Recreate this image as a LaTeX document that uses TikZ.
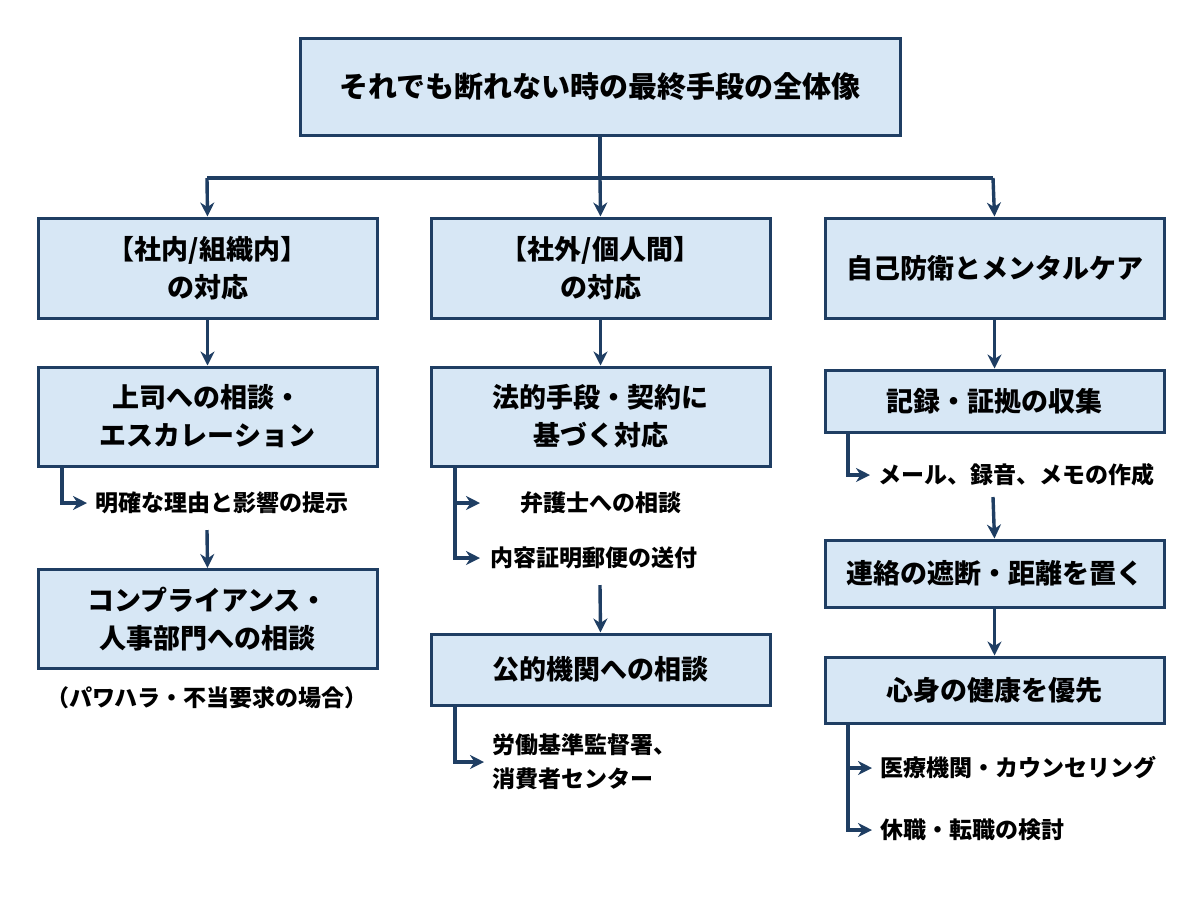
\documentclass[tikz,border=0pt]{standalone}
\usepackage{fontspec}
\setmainfont{Noto Sans CJK JP}
\usetikzlibrary{positioning,calc,arrows.meta}
\definecolor{boxfill}{HTML}{D7E7F5}
\definecolor{navy}{HTML}{1F3E63}
\tikzset{box/.style={draw=navy,line width=1.5pt,fill=boxfill,align=center,font=\bfseries\fontsize{13.5}{19}\selectfont,inner sep=0pt},
         note/.style={anchor=west,align=left,font=\bfseries\fontsize{11.5}{17}\selectfont,inner sep=0pt},
         link/.style={navy,line width=1.7pt,-{Stealth[length=7pt,width=7pt]}}}
\begin{document}
\begin{tikzpicture}[x=0.5pt,y=-0.5pt]
\useasboundingbox (0,0) rectangle (1200,896);
% top
\node[box,minimum width=300pt,minimum height=48.5pt,font=\bfseries\fontsize{14.5}{19}\selectfont] (top) at (600,86.5) {それでも断れない時の最終手段の全体像};
% column boxes
\node[box,minimum width=169.5pt,minimum height=50pt] (a1) at (207.5,268) {【社内/組織内】\\の対応};
\node[box,minimum width=169.5pt,minimum height=50pt] (b1) at (600.5,268) {【社外/個人間】\\の対応};
\node[box,minimum width=169.5pt,minimum height=50pt] (c1) at (994.5,268) {自己防衛とメンタルケア};
\node[box,minimum width=169.5pt,minimum height=49.5pt] (a2) at (207.5,416.5) {上司への相談・\\エスカレーション};
\node[box,minimum width=169.5pt,minimum height=49.5pt] (a3) at (207.5,619) {コンプライアンス・\\人事部門への相談};
\node[box,minimum width=169.5pt,minimum height=49.5pt] (b2) at (600.5,416.5) {法的手段・契約に\\基づく対応};
\node[box,minimum width=169.5pt,minimum height=35.5pt] (b3) at (600.5,669.5) {公的機関への相談};
\node[box,minimum width=169.5pt,minimum height=31pt] (c2) at (994.5,401) {記録・証拠の収集};
\node[box,minimum width=169.5pt,minimum height=33.5pt] (c3) at (994.5,573.5) {連絡の遮断・距離を置く};
\node[box,minimum width=169.5pt,minimum height=33pt] (c4) at (994.5,690) {心身の健康を優先};
% notes
\node[note] (a2n) at (95,503) {明確な理由と影響の提示};
\node[font=\bfseries\fontsize{11.5}{14}\selectfont] (a3n) at (207,698) {（パワハラ・不当要求の場合）};
\node[note] (b2n1) at (520,503) {弁護士への相談};
\node[note] (b2n2) at (490,558) {内容証明郵便の送付};
\node[note] (b3n) at (492,762) {労働基準監督署、\\消費者センター};
\node[note] (c2n) at (878,475) {メール、録音、メモの作成};
\node[note] (c4n1) at (880,768) {医療機関・カウンセリング};
\node[note] (c4n2) at (880,830) {休職・転職の検討};
% trunk
\coordinate (hub) at (600,178);
\draw[navy,line width=1.7pt] (top.south) -- (hub) (207,178) -- (993,178);
\draw[link] (207,178) -- (a1.north);
\draw[link] (hub) -- (b1.north);
\draw[link] (993,178) -- (c1.north);
\draw[link] (a1) -- (a2);
\draw[link] (b1) -- (b2);
\draw[link] (c1) -- (c2);
\draw[link] (207,530) -- (a3.north);
\draw[link] (600,585) -- (b3.north);
\draw[link] (993,497) -- (c3.north);
\draw[link] (c3) -- (c4);
% elbows
\draw[link,shorten >=4pt] (62,466) |- (a2n.west);
\draw[link] (455,466) |- (480,558);
\draw[link] (455,503) -- (480,503);
\draw[link,shorten >=4pt] (455,705) |- (b3n.west);
\draw[link,shorten >=4pt] (848,432) |- (c2n.west);
\draw[link,shorten >=4pt] (848,723) |- (c4n2.west);
\draw[link,shorten >=4pt] (848,768) -- (c4n1.west);
\end{tikzpicture}
\end{document}
